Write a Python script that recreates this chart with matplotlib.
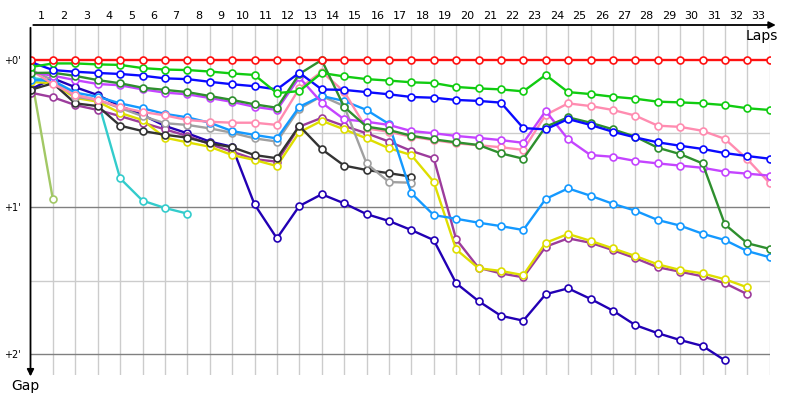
import matplotlib
matplotlib.use("Agg")
import matplotlib.pyplot as plt

# gap to the leader in seconds, one value per lap (lap 0 = start)
laps = list(range(1, 34))

gap_red = [0.0, 0.0, 0.0, 0.0, 0.0, 0.0, 0.0, 0.0, 0.0, 0.0, 0.0, 0.0, 0.0, 0.0, 0.0, 0.0, 0.0,
           0.0, 0.0, 0.0, 0.0, 0.0, 0.0, 0.0, 0.0, 0.0, 0.0, 0.0, 0.0, 0.0, 0.0, 0.0, 0.0, 0.0]
gap_green = [2.9, 1.4, 1.4, 1.8, 2.0, 3.3, 3.9, 4.1, 4.7, 5.5, 6.1, 13.5, 12.7, 5.3, 6.7, 7.8, 8.4,
             9.1, 9.4, 11.0, 11.6, 12.0, 12.8, 6.1, 13.1, 13.9, 15.0, 15.8, 17.0, 17.3, 17.7, 18.4, 19.7, 20.4]
gap_blue = [0.8, 4.1, 4.8, 5.3, 5.7, 6.4, 7.5, 7.8, 8.9, 9.9, 10.7, 12.0, 5.2, 12.0, 12.2, 13.1, 14.0,
            15.1, 15.4, 16.3, 16.7, 17.4, 27.8, 28.3, 24.1, 26.5, 29.3, 31.6, 33.6, 35.0, 36.3, 38.0, 39.2, 40.3]
gap_darkgreen = [5.3, 5.2, 6.5, 8.2, 9.5, 11.3, 12.2, 13.1, 14.7, 16.3, 18.1, 19.5, 5.7, 0.0, 19.1, 27.2, 28.6,
                 30.9, 32.4, 33.6, 34.7, 38.1, 40.3, 27.2, 23.4, 25.6, 28.3, 31.3, 35.8, 38.4, 42.2, 67.1, 74.8, 77.1]
gap_violet = [4.9, 6.4, 8.2, 9.8, 10.3, 12.0, 13.3, 14.0, 15.5, 17.1, 19.1, 20.4, 7.1, 17.4, 24.2, 25.2, 26.5,
              29.0, 29.9, 31.0, 31.8, 32.7, 33.8, 20.8, 32.4, 38.8, 39.5, 41.2, 42.2, 43.1, 44.0, 45.6, 46.4, 47.2]
gap_pink = [4.1, 9.8, 14.3, 16.3, 19.2, 21.2, 22.6, 24.5, 25.2, 25.6, 25.6, 26.5, 11.6, 4.8, 12.9, 27.9, 29.3,
            31.3, 32.7, 34.0, 34.8, 35.6, 36.7, 22.4, 17.7, 18.8, 20.4, 22.7, 26.8, 27.3, 28.9, 32.2, 40.5, 50.3]
gap_lightblue = [8.2, 8.4, 13.3, 15.0, 17.7, 19.7, 22.0, 23.4, 25.6, 29.0, 30.6, 32.0, 19.1, 14.7, 16.7, 20.4, 26.1,
                 54.3, 63.3, 64.8, 66.4, 67.8, 69.4, 56.7, 52.4, 55.4, 58.7, 61.5, 65.3, 67.6, 70.9, 73.5, 78.0, 80.5]
gap_gray = [4.1, 8.2, 15.1, 16.3, 19.6, 22.9, 25.8, 26.5, 27.9, 29.7, 32.0, 33.3, 19.9, 14.7, 18.8, 42.2, 49.8, 50.1]
gap_black = [12.2, 9.5, 17.7, 18.8, 26.8, 29.0, 30.5, 31.7, 34.0, 35.6, 38.8, 40.1, 26.9, 36.4, 43.1, 44.9, 46.2, 47.6]
gap_yellow = [9.0, 9.4, 15.5, 17.0, 21.6, 24.5, 31.7, 33.6, 35.4, 38.8, 40.8, 43.3, 29.5, 24.8, 28.3, 32.0, 36.0,
              38.8, 49.7, 77.3, 85.0, 86.1, 87.8, 74.6, 71.0, 73.8, 76.9, 80.0, 83.4, 85.7, 87.1, 89.5, 92.8]
gap_purple = [13.3, 15.2, 18.4, 20.4, 22.9, 25.6, 28.3, 31.0, 34.3, 37.4, 40.5, 41.5, 27.2, 23.6, 26.9, 29.9, 33.3,
              37.1, 40.1, 73.1, 84.8, 87.1, 88.7, 76.2, 72.8, 74.6, 77.6, 80.9, 84.6, 86.4, 88.3, 91.1, 95.6]
gap_navy = [12.0, 7.5, 11.1, 14.3, 18.8, 22.4, 26.9, 29.9, 33.3, 35.4, 58.9, 72.8, 59.6, 54.8, 58.5, 62.9, 65.7,
            69.4, 73.5, 91.1, 98.4, 104.4, 106.4, 95.6, 93.2, 97.5, 102.3, 108.2, 111.5, 114.3, 116.7, 122.6]
gap_cyan = [7.3, 8.4, 14.3, 16.3, 48.3, 57.4, 60.4, 62.7]
gap_olive = [4.9, 56.9]

series = [
    (gap_olive, '#a2c865'),
    (gap_cyan, '#33cccc'),
    (gap_navy, '#2200b4'),
    (gap_purple, '#9c3c9c'),
    (gap_yellow, '#dede00'),
    (gap_black, '#333333'),
    (gap_gray, '#a0a0a0'),
    (gap_lightblue, '#1499ff'),
    (gap_pink, '#ff8cb0'),
    (gap_violet, '#c444ff'),
    (gap_darkgreen, '#2e8f2e'),
    (gap_blue, '#0a0aff'),
    (gap_green, '#11cc11'),
    (gap_red, '#ff1111'),
]

fig = plt.figure(figsize=(8, 4), dpi=100)
ax = fig.add_axes([30.5 / 800, 25 / 400, 739.2 / 800, 350 / 400])

ymin = (25 - 60) * 60 / 147
ymax = (375 - 60) * 60 / 147
ax.set_xlim(0, 33)
ax.set_ylim(ymax, ymin)

# grid
for i in laps:
    ax.axvline(i, color='#cccccc', lw=1, zorder=0)
for g in [30, 90]:
    ax.plot([0, 33], [g, g], color='#cccccc', lw=1, zorder=0)
for g in [60, 120]:
    ax.plot([0, 33], [g, g], color='#808080', lw=1, zorder=0)

for values, color in series:
    ax.plot(range(len(values)), values, color=color, lw=1.7, marker='o', ms=5,
            mfc='white', mec=color, mew=1.2, zorder=3)

for s in ax.spines.values():
    s.set_visible(False)

ax.xaxis.tick_top()
ax.set_xticks([i - 0.5 for i in laps])
ax.set_xticklabels([str(i) for i in laps], fontsize=8)
ax.tick_params(axis='x', length=0, pad=3)
ax.set_yticks([0, 60, 120])
ax.set_yticklabels(["+0'", "+1'", "+2'"], fontsize=7)
ax.tick_params(axis='y', length=0, pad=7)

# axis arrows
ax.annotate('', xy=(1.012, 1), xytext=(0, 1), xycoords='axes fraction',
            arrowprops=dict(arrowstyle='-|>', color='black', lw=1.3, mutation_scale=10))
ax.annotate('', xy=(0, -0.012), xytext=(0, 1), xycoords='axes fraction',
            arrowprops=dict(arrowstyle='-|>', color='black', lw=1.3, mutation_scale=10))
fig.text(778 / 800, 1 - 36 / 400, 'Laps', fontsize=10, ha='right', va='center')
fig.text(11 / 800, 1 - 386 / 400, 'Gap', fontsize=10, ha='left', va='center')

fig.savefig('out.png', dpi=100)
